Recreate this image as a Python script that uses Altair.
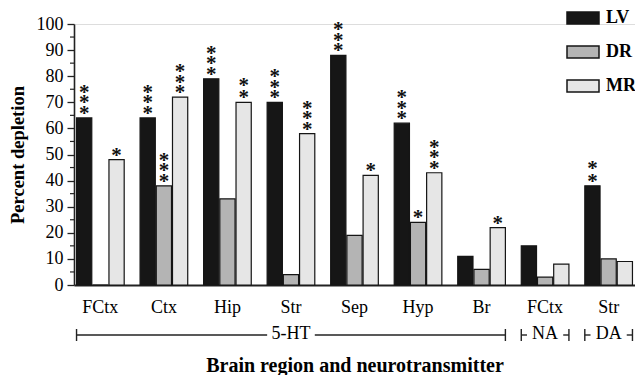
import altair as alt
import pandas as pd

# ---- data ----
regions = ["FCtx", "Ctx", "Hip", "Str", "Sep", "Hyp", "Br", "FCtx", "Str"]
transmitters = ["5-HT", "5-HT", "5-HT", "5-HT", "5-HT", "5-HT", "5-HT", "NA", "DA"]
series_names = ["LV", "DR", "MR"]
lv_values = [64, 64, 79, 70, 88, 62, 11, 15, 38]
dr_values = [0, 38, 33, 4, 19, 24, 6, 3, 10]
mr_values = [48, 72, 70, 58, 42, 43, 22, 8, 9]
lv_stars = [3, 3, 3, 3, 3, 3, 0, 0, 2]
dr_stars = [0, 3, 0, 0, 0, 1, 0, 0, 0]
mr_stars = [1, 3, 2, 3, 1, 3, 1, 0, 0]
y_major = [0, 10, 20, 30, 40, 50, 60, 70, 80, 90, 100]
y_minor = [5, 15, 25, 35, 45, 55, 65, 75, 85, 95]
bracket_names = ["5-HT", "NA", "DA"]
bracket_first = [0, 7, 8]
bracket_mid = [3, 7, 8]
bracket_last = [6, 7, 8]

FONT = "Liberation Serif"
colors = ["#161616", "#b4b4b4", "#e6e6e6"]

keys = [f"{r}|{t}" for r, t in zip(regions, transmitters)]

rows = []
for s, vals, stars in zip(series_names, [lv_values, dr_values, mr_values],
                          [lv_stars, dr_stars, mr_stars]):
    for k, v, n in zip(keys, vals, stars):
        rows.append({"key": k, "series": s, "value": v, "n": n,
                     "stars": "\n".join(["*"] * n)})
df = pd.DataFrame(rows)
df_stars = df[df["n"] > 0]

br = pd.DataFrame({
    "name": bracket_names,
    "first": [keys[i] for i in bracket_first],
    "mid": [keys[i] for i in bracket_mid],
    "last": [keys[i] for i in bracket_last],
})

x_scale = alt.Scale(domain=keys, paddingInner=0.25, paddingOuter=0.04)
xo_scale = alt.Scale(domain=series_names, paddingInner=0.06, paddingOuter=0)
y_scale = alt.Scale(domain=[0, 100], nice=False)

x_axis = alt.Axis(title="Brain region and neurotransmitter",
                  labelExpr="split(datum.label, '|')[0]",
                  labelAngle=0, labelFont=FONT, labelFontSize=18,
                  labelColor="black", labelPadding=13,
                  ticks=False, tickSize=0,
                  domainColor="#222", domainWidth=2,
                  titleFont=FONT, titleFontSize=20, titleFontWeight="bold",
                  titleColor="black", titleY=86, titleBaseline="alphabetic")
y_axis = alt.Axis(title="Percent depletion", values=y_major, grid=False,
                  tickSize=7, tickColor="#222", tickWidth=1.3,
                  domainColor="#222", domainWidth=1.6,
                  labelFont=FONT, labelFontSize=18, labelColor="black",
                  labelPadding=4,
                  titleFont=FONT, titleFontSize=18.5, titleFontWeight="bold",
                  titleColor="black", titleX=-57, titleY=130.5,
                  titleBaseline="middle")

bars = alt.Chart(df).mark_bar(stroke="#151515", strokeWidth=1.2).encode(
    x=alt.X("key:N", scale=x_scale, axis=x_axis),
    xOffset=alt.XOffset("series:N", scale=xo_scale),
    y=alt.Y("value:Q", scale=y_scale, axis=y_axis),
    color=alt.Color("series:N",
                    scale=alt.Scale(domain=series_names, range=colors),
                    legend=alt.Legend(title=None, orient="none", legendX=492, legendY=-23,
                                      symbolType="M-1,-0.375H1V0.375H-1Z",
                                      symbolSize=1024, symbolStrokeColor="#151515",
                                      symbolStrokeWidth=1.5, symbolOpacity=1,
                                      labelFont=FONT, labelFontSize=18,
                                      labelFontWeight="bold", labelColor="black",
                                      labelOffset=6, rowPadding=8, padding=0)),
)

# one multi-line text per bar; the stack grows downward from its first line,
# so each stack height gets its own upward shift
star_pitch = {1: 10.5, 2: 12.5, 3: 10.5}
star_layers = []
for k in (1, 2, 3):
    lh = star_pitch[k]
    star_layers.append(
        alt.Chart(df_stars).transform_filter(f"datum.n == {k}").mark_text(
            lineBreak="\n", lineHeight=lh, baseline="bottom", font=FONT,
            fontSize=21, fontWeight="bold", dy=6 - lh * (k - 1), color="#111"
        ).encode(
            x=alt.X("key:N", scale=x_scale, axis=x_axis),
            xOffset=alt.XOffset("series:N", scale=xo_scale),
            y=alt.Y("value:Q", scale=y_scale, axis=y_axis),
            text="stars:N",
        )
    )

minor = alt.Chart(pd.DataFrame({"v": y_minor})).mark_rule(color="#222", strokeWidth=1.2).encode(
    y=alt.Y("v:Q", scale=y_scale, axis=y_axis),
    x=alt.value(-4), x2=alt.value(0),
)

base_br = alt.Chart(br)
line_kw = dict(color="#222", strokeWidth=1.4)

tick_start = base_br.mark_rule(**line_kw).encode(
    x=alt.X("first:N", scale=x_scale, bandPosition=0, axis=x_axis),
    y=alt.value(305), y2=alt.value(317))
tick_end = base_br.mark_rule(**line_kw).encode(
    x=alt.X("last:N", scale=x_scale, bandPosition=1, axis=x_axis),
    y=alt.value(305), y2=alt.value(317))
seg_big_left = base_br.transform_filter("datum.name == '5-HT'").mark_rule(**line_kw).encode(
    x=alt.X("first:N", scale=x_scale, bandPosition=0, axis=x_axis),
    x2=alt.X2("mid:N", bandPosition=0),
    y=alt.value(311))
seg_big_right = base_br.transform_filter("datum.name == '5-HT'").mark_rule(**line_kw).encode(
    x=alt.X("mid:N", scale=x_scale, bandPosition=1, axis=x_axis),
    x2=alt.X2("last:N", bandPosition=1),
    y=alt.value(311))
seg_small_left = base_br.transform_filter("datum.name != '5-HT'").mark_rule(**line_kw).encode(
    x=alt.X("first:N", scale=x_scale, bandPosition=0, axis=x_axis),
    x2=alt.X2("first:N", bandPosition=0.12),
    y=alt.value(311))
seg_small_right = base_br.transform_filter("datum.name != '5-HT'").mark_rule(**line_kw).encode(
    x=alt.X("last:N", scale=x_scale, bandPosition=0.88, axis=x_axis),
    x2=alt.X2("last:N", bandPosition=1),
    y=alt.value(311))
br_text = base_br.mark_text(font=FONT, fontSize=18, baseline="middle", color="black").encode(
    x=alt.X("mid:N", scale=x_scale, axis=x_axis),
    y=alt.value(310),
    text="name:N")

chart = alt.layer(
    bars, *star_layers, minor, tick_start, tick_end,
    seg_big_left, seg_big_right, seg_small_left, seg_small_right, br_text
).properties(
    width=561, height=261,
    padding={"left": 66, "top": 16, "right": 0, "bottom": 90},
    autosize=alt.AutoSizeParams(type="none"),
).configure_view(stroke="transparent").configure(font=FONT)

chart.save("out.html", embed_options={"renderer": "svg", "actions": False})
